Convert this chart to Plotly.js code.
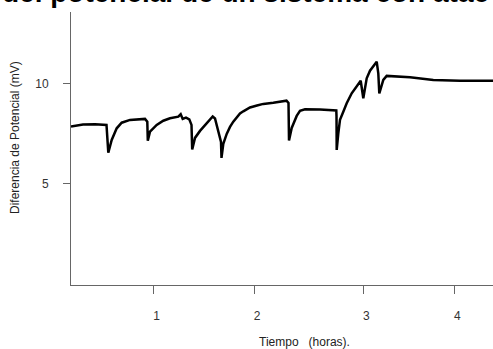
<!DOCTYPE html>
<html>
<head>
<meta charset="utf-8">
<script src="https://cdn.plot.ly/plotly-3.0.1.min.js"></script>
<style>html,body{margin:0;padding:0;background:#fff;overflow:hidden;}</style>
</head>
<body>
<div id="chart" style="width:493px;height:349px;"></div>
<script>
// Time (arbitrary linear axis unit) and potential difference (mV)
const tiempo = [0.00, 0.12, 0.24, 0.355, 0.373, 0.407, 0.457, 0.507, 0.59, 0.69, 0.74, 0.763, 0.768, 0.79, 0.857, 0.923, 0.99, 1.073, 1.097, 1.117, 1.15, 1.183, 1.205, 1.212, 1.24, 1.29, 1.34, 1.38, 1.417, 1.44, 1.46, 1.485, 1.50, 1.505, 1.523, 1.557, 1.59, 1.623, 1.657, 1.69, 1.723, 1.79, 1.86, 1.923, 2.023, 2.10, 2.155, 2.175, 2.18, 2.207, 2.257, 2.29, 2.34, 2.49, 2.653, 2.655, 2.657, 2.673, 2.69, 2.723, 2.757, 2.807, 2.873, 2.897, 2.923, 2.957, 2.99, 3.023, 3.057, 3.073, 3.083, 3.123, 3.157, 3.39, 3.623, 3.89, 4.22];
const potencial = [7.84, 7.94, 7.95, 7.92, 6.53, 7.17, 7.75, 8.03, 8.17, 8.22, 8.22, 8.08, 7.13, 7.58, 7.92, 8.13, 8.25, 8.33, 8.45, 8.22, 8.28, 8.20, 7.92, 6.69, 7.27, 7.62, 7.92, 8.17, 8.34, 8.24, 7.83, 7.37, 7.07, 6.27, 6.97, 7.47, 7.82, 8.08, 8.32, 8.49, 8.60, 8.79, 8.89, 8.97, 9.03, 9.10, 9.13, 9.02, 7.14, 7.77, 8.37, 8.62, 8.70, 8.69, 8.64, 8.37, 6.67, 7.50, 8.17, 8.58, 9.00, 9.50, 9.92, 10.13, 9.25, 10.25, 10.63, 10.87, 11.08, 10.50, 9.49, 10.17, 10.37, 10.30, 10.17, 10.13, 10.13];
const xTickPos = [0.825, 1.83, 2.923, 3.833];
const xTickText = ["1", "2", "3", "4"];
const yTickVals = [5, 10];
const yTickText = ["5", "10"];
const titleText = "del potencial de un sistema con atac";
const xTitle = "Tiempo\u00a0\u00a0\u00a0(horas).";
const yTitle = "Diferencia de Potencial (mV)";

const trace = {
  x: tiempo, y: potencial, type: 'scatter', mode: 'lines',
  line: {color: '#000', width: 2.5}, hoverinfo: 'skip'
};
const axisFont = {family: 'Liberation Sans, Arial, sans-serif', size: 12, color: '#333'};
const layout = {
  width: 493, height: 349,
  margin: {l: 71, r: 0, t: 12, b: 64, pad: 0},
  paper_bgcolor: '#fff', plot_bgcolor: '#fff',
  showlegend: false,
  xaxis: {
    range: [0, 4.22], showgrid: false, zeroline: false,
    showline: true, linecolor: '#666', linewidth: 1,
    ticks: 'outside', ticklen: 8, tickcolor: '#666', tickwidth: 1,
    tickvals: xTickPos, ticktext: xTickText,
    tickfont: axisFont, ticklabelstandoff: 12, ticklabelshift: 3
  },
  yaxis: {
    range: [-0.085, 13.565], showgrid: false, zeroline: false,
    showline: true, linecolor: '#666', linewidth: 1,
    ticks: 'outside', ticklen: 7, tickcolor: '#666', tickwidth: 1,
    tickvals: yTickVals, ticktext: yTickText,
    tickfont: axisFont, ticklabelstandoff: 12
  },
  annotations: [
    {text: '<b>' + titleText + '</b>', xref: 'paper', yref: 'paper', x: -71/422, xanchor: 'left',
     y: 1.073, yanchor: 'middle', showarrow: false,
     font: {family: 'Liberation Sans, Arial, sans-serif', size: 28, color: '#000'}},
    {text: xTitle, xref: 'paper', yref: 'paper', x: (304-71)/422, xanchor: 'center',
     y: -(341.7-285)/273, yanchor: 'middle', showarrow: false,
     font: {family: 'Liberation Sans, Arial, sans-serif', size: 12, color: '#222'}},
    {text: yTitle, xref: 'paper', yref: 'paper', x: -(71-15)/422, xanchor: 'center',
     y: (285-137)/273, yanchor: 'middle', showarrow: false, textangle: -90,
     font: {family: 'Liberation Sans, Arial, sans-serif', size: 12, color: '#222'}}
  ]
};
Plotly.newPlot('chart', [trace], layout, {staticPlot: true, displayModeBar: false});
</script>
</body>
</html>
